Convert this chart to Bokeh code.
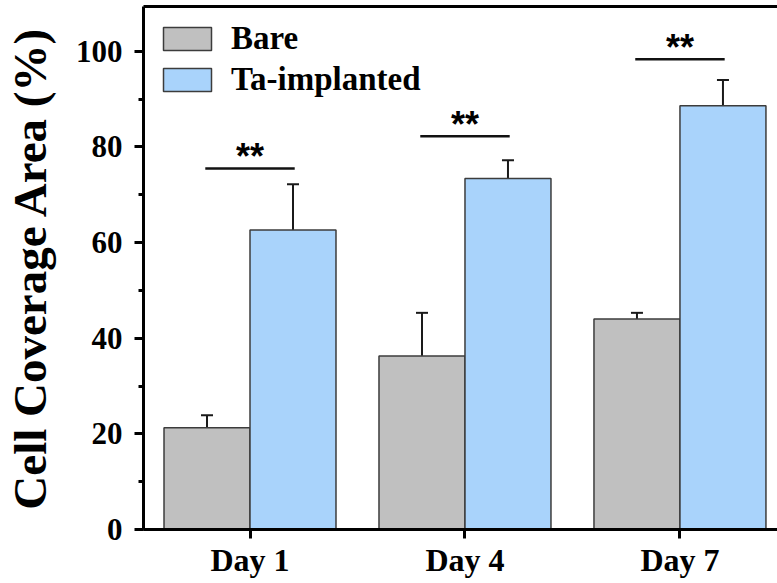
import numpy as np
from bokeh.plotting import figure
from bokeh.models import (Range1d, LinearAxis, FixedTicker, SingleIntervalTicker,
                          Whisker, TeeHead, ColumnDataSource, Legend, LegendItem)
from bokeh.core.properties import value
from bokeh.embed import file_html
from bokeh.resources import INLINE

# ---- data ----
days = ["Day 1", "Day 4", "Day 7"]
bare = [21.3, 36.3, 44.0]
bare_err = [2.6, 9.0, 1.3]
ta = [62.6, 73.4, 88.6]
ta_err = [9.6, 3.8, 5.4]
sig_y = [75.5, 82.2, 98.3]
sig_text = ["**", "**", "**"]
series_names = ["Bare", "Ta-implanted"]

idx = np.arange(len(days))
w = 0.4

src = ColumnDataSource(dict(
    xb=idx - w / 2, xt=idx + w / 2, x=idx,
    bare=bare, bare_hi=np.array(bare) + np.array(bare_err),
    ta=ta, ta_hi=np.array(ta) + np.array(ta_err),
    x0=idx - 0.208, x1=idx + 0.208, sy=sig_y, st=sig_text,
))

SERIF = "Liberation Serif"

p = figure(width=777, height=583, output_backend="svg", toolbar_location=None,
           x_range=Range1d(-0.4954, 2.4537), y_range=Range1d(0, 109.35),
           min_border_left=140, min_border_right=0, min_border_top=6,
           min_border_bottom=54)
p.outline_line_color = None
p.grid.visible = False
p.background_fill_color = "white"

r_bare = p.vbar(x="xb", top="bare", width=w, bottom=0, source=src,
                fill_color="#c0c0c0", line_color="#3c3c3c", line_width=1.5)
r_ta = p.vbar(x="xt", top="ta", width=w, bottom=0, source=src,
              fill_color="#a9d3fb", line_color="#3c3c3c", line_width=1.5)

for base, lo, hi in (("xb", "bare", "bare_hi"), ("xt", "ta", "ta_hi")):
    wh = Whisker(source=src, base=base, lower=lo, upper=hi, dimension="height",
                 line_color="#1a1a1a", line_width=2,
                 upper_head=TeeHead(size=12, line_width=2, line_color="#1a1a1a"),
                 lower_head=None)
    p.add_layout(wh)

p.segment(x0="x0", x1="x1", y0="sy", y1="sy", source=src,
          line_color="#111111", line_width=2.5)
p.text(x="x", y="sy", text="st", source=src, text_align="center",
       text_baseline="alphabetic", y_offset=-12,
       text_font=value("Liberation Sans"), text_font_style="bold",
       text_font_size="36px", text_color="black")

# axes
ya = p.yaxis[0]
ya.ticker = SingleIntervalTicker(interval=20, num_minor_ticks=2)
ya.axis_label = "Cell Coverage Area (%)"
ya.axis_label_text_font = SERIF
ya.axis_label_text_font_style = "bold"
ya.axis_label_text_font_size = "47px"
ya.axis_label_standoff = 17
ya.major_label_text_font = SERIF
ya.major_label_text_font_style = "bold"
ya.major_label_text_font_size = "31px"
ya.major_label_standoff = 12

xa = p.xaxis[0]
xa.ticker = FixedTicker(ticks=list(idx))
xa.major_label_overrides = {int(i): d for i, d in zip(idx, days)}
xa.major_label_text_font = SERIF
xa.major_label_text_font_style = "bold"
xa.major_label_text_font_size = "32px"
xa.major_label_standoff = 3
xa.minor_tick_line_color = None

for ax in (xa, ya):
    ax.axis_line_width = 3
    ax.axis_line_color = "black"
    ax.major_tick_in = 0
    ax.major_tick_out = 9
    ax.minor_tick_in = 0
    ax.minor_tick_out = 5
    ax.major_tick_line_width = 3
    ax.minor_tick_line_width = 3
    ax.major_label_text_color = "black"
    ax.axis_label_text_color = "black"

top = LinearAxis(ticker=FixedTicker(ticks=[]), axis_line_width=3,
                 major_label_text_font_size="0px",
                 major_tick_line_color=None, minor_tick_line_color=None)
p.add_layout(top, "above")

legend = Legend(items=[LegendItem(label=series_names[0], renderers=[r_bare]),
                       LegendItem(label=series_names[1], renderers=[r_ta])],
                location="top_left")
legend.margin = 14
legend.padding = 8
legend.glyph_width = 60
legend.glyph_height = 29
legend.label_standoff = 14
legend.spacing = 4
legend.label_text_font = SERIF
legend.label_text_font_style = "bold"
legend.label_text_font_size = "33px"
legend.label_text_color = "black"
legend.border_line_color = None
legend.background_fill_alpha = 0
p.add_layout(legend)

open("out.html", "w").write(file_html(p, INLINE))
